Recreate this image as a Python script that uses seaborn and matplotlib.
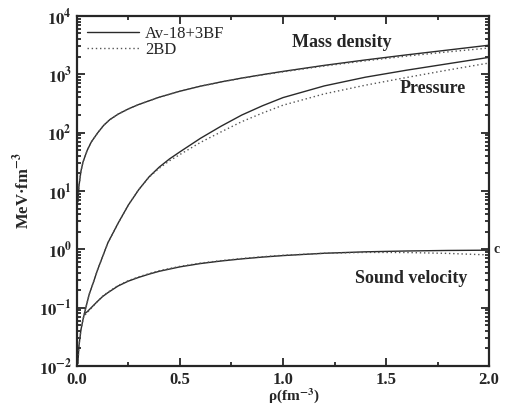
import numpy as np
import pandas as pd
import matplotlib
matplotlib.use("Agg")
import matplotlib.pyplot as plt
import seaborn as sns
from matplotlib.ticker import LogLocator, FuncFormatter, MultipleLocator, NullFormatter

# mass density (MeV fm^-3) vs rho (fm^-3)
rho_md = [0.005, 0.01, 0.02, 0.03, 0.05, 0.07, 0.1, 0.13, 0.16, 0.2, 0.25, 0.3, 0.4, 0.5,
          0.6, 0.7, 0.8, 0.9, 1.0, 1.2, 1.4, 1.6, 1.8, 2.0]
md_av18 = [6.5, 12, 22, 31.5, 49.5, 69, 98, 133, 167, 207, 255, 303, 405, 512,
           625, 740, 860, 985, 1120, 1420, 1760, 2150, 2600, 3150]
md_2bd = [6.5, 12, 22, 31.5, 49.5, 69, 98, 133, 167, 207, 255, 303, 405, 512,
          624, 737, 855, 975, 1100, 1385, 1700, 2050, 2420, 2820]

# pressure
rho_p = [0.005, 0.01, 0.02, 0.03, 0.045, 0.06, 0.08, 0.1, 0.125, 0.15, 0.2, 0.25, 0.3, 0.35,
         0.4, 0.45, 0.5, 0.6, 0.7, 0.8, 0.9, 1.0, 1.2, 1.4, 1.6, 1.8, 2.0]
p_av18 = [0.011, 0.022, 0.042, 0.063, 0.105, 0.17, 0.27, 0.44, 0.75, 1.28, 2.8, 5.75, 10.5, 17.4,
          25.7, 35.5, 46.8, 80, 129, 200, 288, 398, 631, 891, 1175, 1514, 1950]
p_2bd = [0.011, 0.022, 0.042, 0.063, 0.105, 0.17, 0.27, 0.44, 0.75, 1.28, 2.8, 5.75, 10.5, 17.2,
         24.6, 33, 42.1, 68, 103, 154, 216, 295, 461, 650, 881, 1181, 1560]

# sound velocity (units of c)
rho_s = [0.04, 0.05, 0.07, 0.1, 0.125, 0.15, 0.2, 0.25, 0.3, 0.35, 0.4, 0.5, 0.6, 0.7,
         0.8, 0.9, 1.0, 1.2, 1.4, 1.6, 1.8, 2.0]
s_av18 = [0.08, 0.085, 0.1, 0.128, 0.155, 0.18, 0.235, 0.285, 0.33, 0.375, 0.42, 0.50, 0.57, 0.63,
          0.685, 0.735, 0.78, 0.855, 0.905, 0.935, 0.955, 0.965]
s_2bd = [0.075, 0.082, 0.098, 0.128, 0.157, 0.183, 0.24, 0.29, 0.337, 0.383, 0.43, 0.51, 0.58, 0.64,
         0.695, 0.745, 0.79, 0.855, 0.885, 0.88, 0.85, 0.80]

frames = []
for qty, x, a, b in [("mass", rho_md, md_av18, md_2bd),
                     ("pressure", rho_p, p_av18, p_2bd),
                     ("sound", rho_s, s_av18, s_2bd)]:
    frames.append(pd.DataFrame({"rho": x, "val": a, "model": "Av-18+3BF", "qty": qty}))
    frames.append(pd.DataFrame({"rho": x, "val": b, "model": "2BD", "qty": qty}))
df = pd.concat(frames, ignore_index=True)

sns.set_style("ticks")
plt.rcParams["font.family"] = ["Liberation Serif", "DejaVu Serif"]
plt.rcParams["mathtext.fontset"] = "stix"

fig = plt.figure(figsize=(5.09, 4.08), dpi=100)
ax = fig.add_axes([0.151, 0.103, 0.81, 0.858])

for qty in ["mass", "pressure", "sound"]:
    sub = df[df.qty == qty]
    sns.lineplot(data=sub[sub.model == "Av-18+3BF"], x="rho", y="val", ax=ax,
                 color="#2a2a2a", lw=1.0, label="Av-18+3BF" if qty == "mass" else None,
                 legend=False, estimator=None, sort=False)
    sns.lineplot(data=sub[sub.model == "2BD"], x="rho", y="val", ax=ax,
                 color="#555555", lw=1.0, linestyle=(0, (1, 2)),
                 label="2BD" if qty == "mass" else None,
                 legend=False, estimator=None, sort=False)

ax.set_yscale("log")
ax.set_xlim(0, 2.0)
ax.set_ylim(1e-2, 1e4)

ax.xaxis.set_major_locator(MultipleLocator(0.5))
ax.xaxis.set_minor_locator(MultipleLocator(0.25))
ax.xaxis.set_major_formatter(FuncFormatter(lambda v, p: f"{v:.1f}"))
ax.yaxis.set_major_locator(LogLocator(base=10, numticks=10))
ax.yaxis.set_minor_locator(LogLocator(base=10, subs=np.arange(2, 10), numticks=20))
ax.yaxis.set_minor_formatter(NullFormatter())
ax.yaxis.set_major_formatter(FuncFormatter(lambda v, p: r"$\mathbf{10^{%d}}$" % int(round(np.log10(v)))))

ax.tick_params(which="both", direction="in", top=True, right=True, width=1.3)
ax.tick_params(which="major", length=6, labelsize=12)
ax.tick_params(which="minor", length=3)
ax.tick_params(axis="x", which="major", pad=4)
for lab in ax.get_xticklabels():
    lab.set_fontweight("bold")
for s in ax.spines.values():
    s.set_linewidth(1.6)

ax.set_xlabel(r"ρ(fm$^{\mathbf{-3}}$)", fontsize=11, fontweight="bold")
ax.xaxis.set_label_coords(0.527, -0.058)
ax.set_ylabel(r"MeV·fm$^{\mathbf{-3}}$", fontsize=12, fontweight="bold")
ax.yaxis.set_label_coords(-0.107, 0.5)

ax.text(1.285, 3.5e3, "Mass density", fontsize=13, fontweight="bold", ha="center", va="center")
ax.text(1.726, 560, "Pressure", fontsize=13, fontweight="bold", ha="center", va="center")
ax.text(1.62, 0.31, "Sound velocity", fontsize=13, fontweight="bold", ha="center", va="center")
ax.text(2.02, 1.0, "c", fontsize=10, fontweight="bold", ha="left", va="center")

ax.legend(loc="upper left", frameon=False, fontsize=12, handlelength=3.1,
          handletextpad=0.4, borderaxespad=0.2, labelspacing=0.0)

fig.savefig("out.png", dpi=100)
